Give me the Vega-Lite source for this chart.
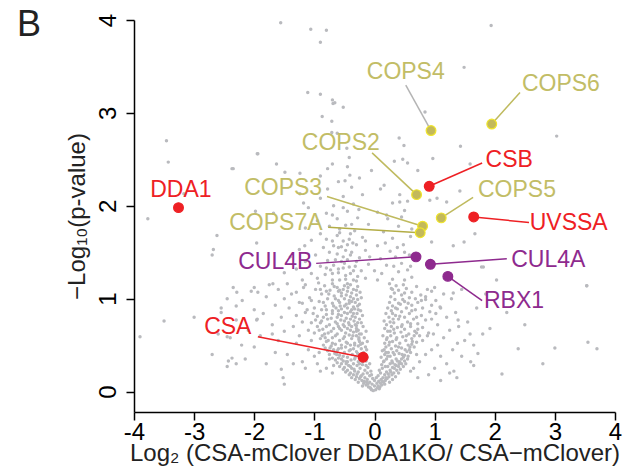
{
"$schema":"https://vega.github.io/schema/vega-lite/v6.json",
"width":481,"height":392,
"autosize":{"type":"none"},
"padding":{"left":134,"top":20,"right":23,"bottom":63},
"background":"white",
"config":{"view":{"stroke":null},"font":"Liberation Sans"},
"title":{"text":"B","anchor":"start","frame":"group","fontSize":36,"fontWeight":"normal","font":"Liberation Sans","color":"#222222","baseline":"alphabetic","offset":0,"dx":-117,"dy":59},
"datasets":{
"bg":[
{"x":-0.02,"y":0.01},{"x":0.02,"y":0.02},{"x":-0.06,"y":0.03},{"x":0.05,"y":0.04},{"x":-0.1,"y":0.05},{"x":0.09,"y":0.05},{"x":0.0,"y":0.06},{"x":-0.14,"y":0.07},{"x":0.12,"y":0.07},{"x":-0.04,"y":0.08},{"x":0.04,"y":0.09},{"x":-0.18,"y":0.09},{"x":0.15,"y":0.1},{"x":-0.08,"y":0.1},{"x":0.07,"y":0.11},{"x":-0.21,"y":0.12},{"x":0.18,"y":0.12},{"x":-0.12,"y":0.13},{"x":0.11,"y":0.13},{"x":-0.25,"y":0.14},{"x":0.21,"y":0.14},{"x":-0.16,"y":0.15},{"x":0.14,"y":0.15},{"x":0.0,"y":0.12},{"x":-0.03,"y":0.14},
{"x":-0.3,"y":0.16},{"x":-0.22,"y":0.17},{"x":-0.35,"y":0.18},{"x":-0.08,"y":0.17},{"x":0.06,"y":0.17},{"x":0.24,"y":0.16},{"x":0.29,"y":0.18},{"x":0.17,"y":0.18},{"x":-0.19,"y":0.19},{"x":-0.4,"y":0.2},{"x":-0.27,"y":0.21},{"x":-0.12,"y":0.2},{"x":0.1,"y":0.2},{"x":0.2,"y":0.21},{"x":0.32,"y":0.2},{"x":-0.33,"y":0.22},{"x":-0.45,"y":0.23},{"x":-0.16,"y":0.23},{"x":-0.06,"y":0.22},{"x":0.08,"y":0.23},{"x":0.26,"y":0.23},{"x":0.37,"y":0.23},{"x":-0.24,"y":0.25},{"x":-0.38,"y":0.25},{"x":-0.5,"y":0.26},{"x":-0.11,"y":0.26},{"x":0.13,"y":0.25},{"x":0.3,"y":0.26},{"x":0.22,"y":0.27},{"x":0.4,"y":0.27},{"x":-0.29,"y":0.28},{"x":-0.43,"y":0.28},{"x":-0.2,"y":0.29},{"x":-0.55,"y":0.3},{"x":0.12,"y":0.29},{"x":0.34,"y":0.29},{"x":0.45,"y":0.3},{"x":-0.08,"y":0.3},{"x":0.26,"y":0.3},{"x":-0.35,"y":0.3},
{"x":-0.62,"y":0.31},{"x":-0.47,"y":0.32},{"x":-0.27,"y":0.32},{"x":-0.14,"y":0.33},{"x":0.15,"y":0.32},{"x":0.29,"y":0.33},{"x":0.42,"y":0.32},{"x":0.5,"y":0.33},{"x":-0.39,"y":0.34},{"x":-0.55,"y":0.35},{"x":-0.21,"y":0.35},{"x":0.2,"y":0.35},{"x":0.36,"y":0.35},{"x":-0.7,"y":0.36},{"x":-0.32,"y":0.37},{"x":-0.45,"y":0.37},{"x":-0.12,"y":0.37},{"x":0.11,"y":0.37},{"x":0.26,"y":0.38},{"x":0.48,"y":0.37},{"x":0.56,"y":0.38},{"x":-0.58,"y":0.39},{"x":-0.25,"y":0.39},{"x":-0.37,"y":0.4},{"x":0.17,"y":0.4},{"x":0.33,"y":0.4},{"x":0.41,"y":0.41},{"x":-0.66,"y":0.41},{"x":-0.5,"y":0.42},{"x":-0.18,"y":0.42},{"x":0.23,"y":0.42},{"x":0.6,"y":0.42},{"x":-0.3,"y":0.43},{"x":-0.42,"y":0.44},{"x":-0.78,"y":0.44},{"x":0.13,"y":0.44},{"x":0.37,"y":0.44},{"x":0.51,"y":0.45},{"x":-0.6,"y":0.46},{"x":-0.22,"y":0.46},{"x":-0.35,"y":0.46},{"x":0.28,"y":0.46},{"x":0.45,"y":0.47},{"x":-0.48,"y":0.48},{"x":-0.15,"y":0.48},{"x":0.19,"y":0.48},{"x":0.66,"y":0.48},{"x":-0.72,"y":0.49},{"x":-0.27,"y":0.49},{"x":0.35,"y":0.49},{"x":0.56,"y":0.5},{"x":-0.4,"y":0.5},{"x":-0.55,"y":0.5},{"x":0.24,"y":0.5},{"x":-0.85,"y":0.5},
{"x":-0.65,"y":0.51},{"x":-0.2,"y":0.52},{"x":-0.33,"y":0.52},{"x":0.17,"y":0.52},{"x":0.42,"y":0.52},{"x":0.7,"y":0.53},{"x":-0.47,"y":0.53},{"x":-0.8,"y":0.54},{"x":-0.12,"y":0.54},{"x":0.3,"y":0.54},{"x":0.52,"y":0.55},{"x":-0.58,"y":0.55},{"x":-0.26,"y":0.56},{"x":-0.38,"y":0.57},{"x":0.2,"y":0.56},{"x":0.62,"y":0.57},{"x":-0.9,"y":0.57},{"x":-0.7,"y":0.58},{"x":-0.17,"y":0.58},{"x":0.37,"y":0.58},{"x":0.47,"y":0.59},{"x":-0.5,"y":0.59},{"x":-0.3,"y":0.6},{"x":0.14,"y":0.6},{"x":0.27,"y":0.6},{"x":0.75,"y":0.6},{"x":-0.42,"y":0.61},{"x":-0.62,"y":0.62},{"x":-0.22,"y":0.62},{"x":0.57,"y":0.62},{"x":-1.0,"y":0.63},{"x":-0.77,"y":0.63},{"x":0.33,"y":0.63},{"x":0.44,"y":0.64},{"x":-0.35,"y":0.64},{"x":-0.14,"y":0.65},{"x":0.22,"y":0.65},{"x":0.67,"y":0.65},{"x":-0.55,"y":0.66},{"x":-0.27,"y":0.66},{"x":-0.86,"y":0.67},{"x":0.5,"y":0.67},{"x":0.17,"y":0.68},{"x":-0.45,"y":0.68},{"x":-0.68,"y":0.68},{"x":0.38,"y":0.69},{"x":0.8,"y":0.69},{"x":-0.19,"y":0.7},{"x":-0.38,"y":0.7},{"x":0.28,"y":0.7},{"x":-0.95,"y":0.7},{"x":0.6,"y":0.7},{"x":-0.6,"y":0.7},{"x":-1.1,"y":0.66},{"x":0.9,"y":0.63},
{"x":-0.3,"y":0.71},{"x":-0.52,"y":0.72},{"x":-0.75,"y":0.72},{"x":0.2,"y":0.72},{"x":0.46,"y":0.72},{"x":0.72,"y":0.73},{"x":-0.22,"y":0.74},{"x":-0.43,"y":0.74},{"x":-1.05,"y":0.74},{"x":0.32,"y":0.74},{"x":0.55,"y":0.75},{"x":-0.65,"y":0.75},{"x":-0.34,"y":0.76},{"x":-0.88,"y":0.76},{"x":0.16,"y":0.76},{"x":0.85,"y":0.77},{"x":-0.56,"y":0.77},{"x":-0.25,"y":0.78},{"x":0.4,"y":0.78},{"x":0.65,"y":0.78},{"x":-0.72,"y":0.79},{"x":-0.47,"y":0.79},{"x":0.24,"y":0.8},{"x":0.5,"y":0.8},{"x":-0.37,"y":0.81},{"x":-0.95,"y":0.81},{"x":-0.2,"y":0.82},{"x":0.35,"y":0.82},{"x":0.78,"y":0.82},{"x":-0.6,"y":0.83},{"x":-0.8,"y":0.83},{"x":-0.29,"y":0.84},{"x":0.58,"y":0.84},{"x":0.19,"y":0.84},{"x":-0.5,"y":0.85},{"x":-1.15,"y":0.85},{"x":0.45,"y":0.86},{"x":0.92,"y":0.86},{"x":-0.4,"y":0.86},{"x":-0.7,"y":0.87},{"x":-0.23,"y":0.87},{"x":0.28,"y":0.87},{"x":0.68,"y":0.88},{"x":-0.88,"y":0.88},{"x":-0.55,"y":0.89},{"x":-0.33,"y":0.89},{"x":0.38,"y":0.89},{"x":0.53,"y":0.9},{"x":-1.0,"y":0.9},{"x":-0.45,"y":0.9},{"x":0.22,"y":0.9},{"x":-0.64,"y":0.9},{"x":0.8,"y":0.9},{"x":-0.27,"y":0.88},{"x":-0.78,"y":0.78},
{"x":-0.35,"y":0.91},{"x":-0.57,"y":0.92},{"x":-0.82,"y":0.92},{"x":0.3,"y":0.92},{"x":0.62,"y":0.93},{"x":0.95,"y":0.93},{"x":-0.25,"y":0.94},{"x":-0.47,"y":0.94},{"x":-1.2,"y":0.95},{"x":0.43,"y":0.94},{"x":-0.7,"y":0.95},{"x":0.25,"y":0.96},{"x":0.72,"y":0.96},{"x":-0.38,"y":0.97},{"x":-0.92,"y":0.97},{"x":0.5,"y":0.97},{"x":-0.6,"y":0.98},{"x":-0.28,"y":0.99},{"x":0.34,"y":0.99},{"x":0.85,"y":0.99},{"x":-0.78,"y":1.0},{"x":-0.5,"y":1.0},{"x":-1.08,"y":1.01},{"x":0.58,"y":1.01},{"x":0.27,"y":1.02},{"x":-0.4,"y":1.02},{"x":-0.67,"y":1.03},{"x":-0.3,"y":1.04},{"x":0.45,"y":1.04},{"x":0.77,"y":1.04},{"x":-0.88,"y":1.05},{"x":-0.55,"y":1.06},{"x":0.33,"y":1.06},{"x":-1.3,"y":1.07},{"x":-0.24,"y":1.07},{"x":0.62,"y":1.07},{"x":-0.45,"y":1.08},{"x":-0.74,"y":1.09},{"x":0.4,"y":1.09},{"x":0.95,"y":1.08},{"x":-0.35,"y":1.1},{"x":-0.98,"y":1.1},{"x":0.28,"y":1.11},{"x":0.53,"y":1.11},{"x":-0.62,"y":1.12},{"x":-0.28,"y":1.13},{"x":0.7,"y":1.13},{"x":-0.5,"y":1.14},{"x":-0.83,"y":1.14},{"x":0.36,"y":1.14},{"x":-1.15,"y":1.15},{"x":-0.4,"y":1.15},{"x":0.48,"y":1.15},{"x":0.25,"y":1.16},{"x":-0.7,"y":1.16},{"x":-0.32,"y":0.96},{"x":-0.44,"y":1.12},{"x":0.88,"y":1.1},{"x":-0.58,"y":1.09},{"x":-0.22,"y":1.01},
{"x":-0.07,"y":0.04},{"x":0.08,"y":0.03},{"x":-0.13,"y":0.1},{"x":0.1,"y":0.09},{"x":-0.2,"y":0.06},{"x":0.17,"y":0.08},{"x":-0.27,"y":0.1},{"x":0.25,"y":0.1},{"x":-0.05,"y":0.18},{"x":0.03,"y":0.15},{"x":-0.32,"y":0.13},{"x":0.3,"y":0.13},{"x":-0.38,"y":0.15},{"x":0.35,"y":0.16},{"x":-0.42,"y":0.18},{"x":0.4,"y":0.2},{"x":-0.48,"y":0.21},{"x":0.43,"y":0.24},{"x":-0.52,"y":0.24},{"x":0.48,"y":0.27},{"x":-0.58,"y":0.27},{"x":0.52,"y":0.3},{"x":-0.14,"y":0.28},{"x":0.18,"y":0.27},{"x":-0.25,"y":0.3},{"x":0.3,"y":0.31},{"x":-0.45,"y":0.32},{"x":0.38,"y":0.33},{"x":-0.65,"y":0.34},{"x":0.55,"y":0.35},{"x":-0.33,"y":0.35},{"x":-0.18,"y":0.38},{"x":0.22,"y":0.38},{"x":-0.52,"y":0.38},{"x":0.46,"y":0.4},{"x":-0.75,"y":0.4},{"x":-0.28,"y":0.41},{"x":0.31,"y":0.42},{"x":-0.62,"y":0.44},{"x":0.58,"y":0.45},{"x":-0.4,"y":0.45},{"x":-0.13,"y":0.45},{"x":0.16,"y":0.45},{"x":-0.82,"y":0.47},{"x":-0.55,"y":0.47},{"x":0.4,"y":0.48},{"x":-0.33,"y":0.5},{"x":0.62,"y":0.51},{"x":-0.7,"y":0.52},{"x":-0.45,"y":0.52},{"x":-0.25,"y":0.54},{"x":0.25,"y":0.53},{"x":0.36,"y":0.56},{"x":-0.52,"y":0.57},{"x":-0.82,"y":0.58},{"x":-0.65,"y":0.6},{"x":-0.36,"y":0.6},{"x":0.53,"y":0.6},{"x":-0.25,"y":0.62},{"x":0.7,"y":0.63},{"x":-0.48,"y":0.63},{"x":-0.72,"y":0.65},{"x":-0.4,"y":0.66},{"x":0.32,"y":0.67},{"x":-0.58,"y":0.68},{"x":-0.3,"y":0.68},{"x":0.45,"y":0.7},{"x":-0.8,"y":0.7},{"x":-0.5,"y":0.7},{"x":-0.42,"y":0.72},{"x":-0.62,"y":0.73},{"x":0.6,"y":0.73},{"x":-0.28,"y":0.74},{"x":-0.9,"y":0.74},{"x":0.26,"y":0.75},{"x":-0.5,"y":0.76},{"x":-0.4,"y":0.78},{"x":0.7,"y":0.8},{"x":-0.62,"y":0.8},{"x":-0.32,"y":0.8},{"x":-0.85,"y":0.8},{"x":0.42,"y":0.81},{"x":-0.55,"y":0.82},{"x":-0.45,"y":0.84},{"x":-0.7,"y":0.84},{"x":0.3,"y":0.84},{"x":-0.38,"y":0.88},{"x":-0.6,"y":0.87},{"x":0.62,"y":0.87},{"x":-0.8,"y":0.88},{"x":-0.5,"y":0.92},{"x":-0.28,"y":0.92},{"x":-0.68,"y":0.92},{"x":0.4,"y":0.95},{"x":-0.42,"y":0.95},{"x":-0.58,"y":0.96},{"x":-0.85,"y":0.96},{"x":-0.35,"y":1.0},{"x":-0.65,"y":1.0},{"x":0.68,"y":1.0},{"x":-0.47,"y":1.04},{"x":-0.76,"y":1.05},{"x":-0.38,"y":1.06},{"x":0.5,"y":1.06},{"x":-0.6,"y":1.08},{"x":-0.3,"y":1.09},{"x":-0.9,"y":1.1},{"x":-0.52,"y":1.1},{"x":0.3,"y":1.1},{"x":-0.45,"y":1.16},{"x":-0.35,"y":1.2},{"x":-0.58,"y":1.2},{"x":-0.28,"y":1.24},{"x":-0.48,"y":1.25},{"x":-0.7,"y":1.27},{"x":-0.35,"y":1.3},{"x":-0.6,"y":1.32},{"x":-0.42,"y":1.34},{"x":-0.8,"y":1.33},{"x":-0.5,"y":1.38},{"x":-0.3,"y":1.4},{"x":-0.65,"y":1.42},{"x":-0.52,"y":1.45},{"x":-0.4,"y":1.47},{"x":-0.75,"y":1.5},{"x":-0.48,"y":1.52},{"x":-0.6,"y":1.55},{"x":-0.36,"y":1.6},{"x":-0.52,"y":1.62},{"x":-0.8,"y":1.64},{"x":-0.62,"y":1.68},{"x":-0.4,"y":1.7},
{"x":-0.05,"y":0.02},{"x":0.06,"y":0.06},{"x":-0.11,"y":0.08},{"x":0.13,"y":0.11},{"x":-0.17,"y":0.11},{"x":0.19,"y":0.15},{"x":-0.23,"y":0.16},{"x":0.23,"y":0.19},{"x":-0.29,"y":0.19},{"x":0.27,"y":0.21},{"x":-0.34,"y":0.24},{"x":0.33,"y":0.25},{"x":-0.4,"y":0.27},{"x":0.36,"y":0.28},{"x":-0.47,"y":0.3},{"x":0.41,"y":0.3},{"x":-0.52,"y":0.33},{"x":0.45,"y":0.35},{"x":-0.6,"y":0.36},{"x":0.5,"y":0.39},{"x":-0.63,"y":0.4},{"x":0.54,"y":0.43},{"x":-0.68,"y":0.45},{"x":0.59,"y":0.48},{"x":-0.74,"y":0.47},{"x":0.63,"y":0.54},{"x":-0.77,"y":0.55},{"x":0.66,"y":0.6},{"x":-0.83,"y":0.62},{"x":0.72,"y":0.67},{"x":-0.87,"y":0.6},{"x":-0.92,"y":0.66},{"x":-0.98,"y":0.77},{"x":-1.02,"y":0.84},{"x":-0.2,"y":0.32},{"x":-0.16,"y":0.4},{"x":0.16,"y":0.33},{"x":0.19,"y":0.42},{"x":-0.23,"y":0.51},{"x":0.21,"y":0.58},{"x":-0.26,"y":0.58},{"x":-0.32,"y":0.72},{"x":-0.35,"y":0.84},{"x":-0.42,"y":0.98},{"x":-0.3,"y":0.65},{"x":0.26,"y":0.65},{"x":0.31,"y":0.78},{"x":0.35,"y":0.9},{"x":0.47,"y":0.99},{"x":0.56,"y":0.95},{"x":-0.55,"y":1.03},{"x":-0.67,"y":1.13},{"x":-0.8,"y":1.08},{"x":-0.93,"y":1.17},{"x":-0.73,"y":1.31},{"x":-0.55,"y":1.4},{"x":-0.45,"y":1.58},{"x":-0.68,"y":1.57},{"x":-0.58,"y":1.75},{"x":-0.38,"y":1.8},{"x":-0.7,"y":1.9},{"x":-0.52,"y":1.98},{"x":-0.26,"y":1.96},{"x":-0.15,"y":1.62},{"x":-0.08,"y":1.45},{"x":0.0,"y":1.3},{"x":0.18,"y":1.6},{"x":0.32,"y":1.35},{"x":0.5,"y":1.5},{"x":0.6,"y":1.35},
{"x":-1.2,"y":0.32},{"x":-1.45,"y":0.4},{"x":-1.1,"y":0.45},{"x":-1.3,"y":0.52},{"x":-1.6,"y":0.55},{"x":-1.9,"y":0.6},{"x":-1.25,"y":0.6},{"x":-1.5,"y":0.65},{"x":-2.1,"y":0.66},{"x":-1.35,"y":0.7},{"x":-1.7,"y":0.72},{"x":-1.2,"y":0.75},{"x":-2.3,"y":0.77},{"x":-1.55,"y":0.8},{"x":-1.3,"y":0.82},{"x":-1.85,"y":0.84},{"x":-2.0,"y":0.88},{"x":-1.42,"y":0.9},{"x":-1.65,"y":0.93},{"x":-1.25,"y":0.96},{"x":-2.2,"y":0.98},{"x":-1.5,"y":1.0},{"x":-1.8,"y":1.02},{"x":-1.38,"y":1.05},{"x":-2.05,"y":1.08},{"x":-1.6,"y":1.1},{"x":-1.18,"y":1.12},{"x":-2.35,"y":1.12},{"x":-1.75,"y":1.15},{"x":-1.45,"y":1.16},{"x":-1.0,"y":0.38},{"x":-0.95,"y":0.3},{"x":-1.15,"y":0.25},{"x":-0.9,"y":0.22},{"x":-1.35,"y":0.3},{"x":-1.65,"y":0.42},{"x":-2.0,"y":0.48},{"x":-2.4,"y":0.58},{"x":-2.15,"y":0.35},{"x":-1.8,"y":0.3},{"x":-2.55,"y":0.85},{"x":-2.45,"y":1.0},{"x":-1.05,"y":0.55},{"x":-1.12,"y":0.88},{"x":-1.55,"y":0.24},{"x":-2.6,"y":0.62},{"x":-2.3,"y":0.92},{"x":-1.95,"y":0.78},{"x":-1.7,"y":0.62},{"x":-2.0,"y":1.12},{"x":-1.05,"y":0.98},{"x":-0.92,"y":0.42},{"x":-0.8,"y":0.25},{"x":-0.75,"y":0.35},{"x":-0.7,"y":0.2},{"x":-0.68,"y":0.28},{"x":-2.45,"y":0.27},{"x":-2.3,"y":0.3},{"x":-1.5,"y":0.08},{"x":-3.0,"y":0.8},{"x":-2.7,"y":0.4},{"x":-3.5,"y":0.76},
{"x":-2.55,"y":0.9},{"x":-2.43,"y":0.33},{"x":-2.37,"y":0.36},{"x":-3.9,"y":0.59},{"x":-2.45,"y":0.59},{"x":-1.52,"y":0.15},{"x":-1.96,"y":0.77},{"x":-1.94,"y":1.07},{"x":-2.29,"y":1.07},{"x":-2.21,"y":0.5},
{"x":0.65,"y":0.25},{"x":0.75,"y":0.32},{"x":0.85,"y":0.4},{"x":0.95,"y":0.45},{"x":1.05,"y":0.5},{"x":0.8,"y":0.55},{"x":1.15,"y":0.58},{"x":0.98,"y":0.62},{"x":1.25,"y":0.66},{"x":1.05,"y":0.72},{"x":0.95,"y":0.78},{"x":1.2,"y":0.8},{"x":1.35,"y":0.85},{"x":1.1,"y":0.9},{"x":1.02,"y":0.98},{"x":1.28,"y":1.0},{"x":1.15,"y":1.05},{"x":1.4,"y":0.7},{"x":1.5,"y":0.55},{"x":1.3,"y":0.45},{"x":1.45,"y":0.38},{"x":1.2,"y":0.3},{"x":1.0,"y":0.25},{"x":0.9,"y":0.18},{"x":0.72,"y":0.15},{"x":1.1,"y":0.12},{"x":1.32,"y":0.22},{"x":1.6,"y":0.32},{"x":1.55,"y":0.75},{"x":1.7,"y":0.9},{"x":1.45,"y":1.1},{"x":0.7,"y":0.4},{"x":0.88,"y":0.6},{"x":1.1,"y":0.38},{"x":0.6,"y":0.22},{"x":1.38,"y":0.52},{"x":1.02,"y":0.84},{"x":0.85,"y":1.02},{"x":0.78,"y":0.98},{"x":1.65,"y":0.5},{"x":1.8,"y":0.62},{"x":2.2,"y":0.85},{"x":1.85,"y":1.05},{"x":2.5,"y":0.72},{"x":1.0,"y":1.12},
{"x":2.39,"y":0.46},{"x":3.0,"y":0.47},{"x":3.55,"y":0.53},{"x":3.7,"y":0.46},{"x":1.92,"y":0.68},{"x":1.59,"y":0.62},{"x":1.72,"y":0.41},{"x":2.12,"y":0.19},{"x":1.37,"y":0.15},{"x":1.39,"y":0.77},{"x":1.31,"y":1.06},{"x":1.09,"y":0.91},{"x":2.03,"y":1.2},{"x":1.78,"y":1.34},{"x":3.53,"y":1.14},{"x":1.65,"y":0.28},{"x":1.25,"y":0.2},{"x":2.8,"y":0.3},
{"x":-1.2,"y":1.2},{"x":-0.95,"y":1.22},{"x":-0.7,"y":1.2},{"x":-0.48,"y":1.21},{"x":-0.3,"y":1.19},{"x":-0.15,"y":1.22},{"x":0.05,"y":1.2},{"x":0.3,"y":1.21},{"x":0.5,"y":1.2},{"x":0.62,"y":1.23},
{"x":-1.05,"y":1.27},{"x":-0.82,"y":1.26},{"x":-0.6,"y":1.28},{"x":-0.4,"y":1.27},{"x":-0.22,"y":1.3},{"x":0.12,"y":1.27},{"x":0.4,"y":1.29},{"x":0.55,"y":1.31},{"x":-1.3,"y":1.32},{"x":-0.52,"y":1.33},
{"x":-0.9,"y":1.35},{"x":-0.68,"y":1.36},{"x":-0.32,"y":1.35},{"x":-0.1,"y":1.37},{"x":0.2,"y":1.36},{"x":0.45,"y":1.38},{"x":-1.15,"y":1.4},{"x":-0.78,"y":1.41},{"x":-0.45,"y":1.42},{"x":-0.25,"y":1.44},
{"x":0.1,"y":1.43},{"x":0.35,"y":1.45},{"x":0.58,"y":1.47},{"x":-0.98,"y":1.47},{"x":-0.62,"y":1.48},{"x":-0.38,"y":1.5},{"x":-0.15,"y":1.52},{"x":0.26,"y":1.51},{"x":-1.25,"y":1.53},{"x":-0.85,"y":1.55},
{"x":-0.55,"y":1.56},{"x":-0.3,"y":1.58},{"x":0.05,"y":1.57},{"x":0.48,"y":1.58},{"x":-0.7,"y":1.62},{"x":-1.05,"y":1.63},{"x":-0.42,"y":1.64},{"x":-0.2,"y":1.66},{"x":0.3,"y":1.65},{"x":0.6,"y":1.67},
{"x":-0.9,"y":1.7},{"x":-0.58,"y":1.71},{"x":-0.33,"y":1.73},{"x":0.15,"y":1.72},{"x":-1.15,"y":1.76},{"x":-0.75,"y":1.78},{"x":-0.48,"y":1.79},{"x":-0.1,"y":1.8},{"x":0.4,"y":1.78},{"x":-0.95,"y":1.84},
{"x":-0.62,"y":1.86},{"x":-0.28,"y":1.87},{"x":0.22,"y":1.86},{"x":-0.8,"y":1.92},{"x":-0.45,"y":1.94},{"x":0.05,"y":1.93},{"x":0.5,"y":1.95},{"x":-1.1,"y":1.98},{"x":-0.68,"y":2.0},{"x":-0.35,"y":2.02},
{"x":0.3,"y":2.03},{"x":-0.9,"y":2.08},{"x":-0.52,"y":2.1},{"x":-0.2,"y":2.12},{"x":-0.78,"y":2.18},{"x":-0.38,"y":2.2},{"x":0.1,"y":2.18},{"x":-0.6,"y":2.26},{"x":-0.25,"y":2.3},{"x":-0.9,"y":2.32},
{"x":0.45,"y":1.88},{"x":0.62,"y":1.75},{"x":0.55,"y":2.05},{"x":0.42,"y":2.12},{"x":-0.05,"y":2.38},{"x":-0.7,"y":2.45},{"x":-0.42,"y":2.52},{"x":0.38,"y":1.55},{"x":-1.4,"y":1.45},{"x":-1.5,"y":1.28},
{"x":-1.56,"y":3.97},{"x":-1.06,"y":3.9},{"x":-0.8,"y":3.89},{"x":-0.9,"y":3.76},{"x":-1.11,"y":3.22},{"x":-0.9,"y":3.2},{"x":-0.7,"y":3.14},{"x":-0.69,"y":3.1},{"x":-0.52,"y":3.06},{"x":-0.87,"y":2.96},{"x":-0.71,"y":2.91},{"x":-0.71,"y":2.79},{"x":-0.62,"y":2.78},{"x":-0.46,"y":2.62},{"x":-1.94,"y":2.56},{"x":-1.63,"y":2.45},{"x":-2.37,"y":2.4},{"x":-0.78,"y":2.4},{"x":-0.45,"y":2.42},{"x":0.41,"y":2.73},{"x":0.49,"y":2.65},{"x":0.33,"y":2.48},{"x":0.47,"y":2.5},{"x":0.55,"y":2.46},{"x":1.94,"y":3.94},{"x":1.49,"y":3.49},{"x":0.84,"y":3.01},{"x":3.03,"y":2.75},{"x":1.43,"y":2.64},{"x":0.97,"y":2.51},{"x":1.59,"y":2.45},{"x":0.72,"y":2.38},{"x":1.42,"y":2.16},{"x":0.16,"y":2.22},{"x":-0.49,"y":2.27},{"x":-0.41,"y":2.33},{"x":0.92,"y":2.06},{"x":1.04,"y":2.08},{"x":0.42,"y":2.04},{"x":0.2,"y":1.9},{"x":1.67,"y":1.7},{"x":1.2,"y":2.04},{"x":0.95,"y":1.61},{"x":1.31,"y":1.57},{"x":1.49,"y":1.61},{"x":1.81,"y":1.34},{"x":3.53,"y":1.14},{"x":-3.46,"y":2.7},{"x":-3.43,"y":2.47},{"x":-3.17,"y":2.13},{"x":-3.77,"y":1.86},{"x":-1.95,"y":2.56},{"x":-1.49,"y":2.36},{"x":-1.98,"y":1.94},{"x":-1.68,"y":1.92},{"x":-1.18,"y":2.03},{"x":-2.62,"y":1.68},{"x":-2.68,"y":1.53},{"x":-2.7,"y":1.47},{"x":-1.96,"y":1.6},{"x":-1.16,"y":1.57},{"x":-1.69,"y":1.16},{"x":-2.35,"y":2.4},{"x":-1.24,"y":2.35},{"x":-1.24,"y":2.13},{"x":-0.66,"y":3.11}
],
"hl":[
{"gene":"COPS4","grp":"CSN","x":0.94,"y":2.81,"lx":0.52,"ly":3.44,"ex":0.52,"ey":3.3},
{"gene":"COPS6","grp":"CSN","x":1.95,"y":2.88,"lx":3.1,"ly":3.31,"ex":2.42,"ey":3.22},
{"gene":"COPS2","grp":"CSN","x":0.7,"y":2.12,"lx":-0.56,"ly":2.68,"ex":-0.04,"ey":2.57},
{"gene":"CSB","grp":"TCR","x":0.91,"y":2.21,"lx":2.24,"ly":2.49,"ex":1.79,"ey":2.46},
{"gene":"COPS3","grp":"CSN","x":0.8,"y":1.78,"lx":-1.52,"ly":2.19,"ex":-0.79,"ey":2.1},
{"gene":"COPS5","grp":"CSN","x":1.11,"y":1.87,"lx":2.37,"ly":2.17,"ex":1.64,"ey":2.09},
{"gene":"UVSSA","grp":"TCR","x":1.65,"y":1.88,"lx":3.23,"ly":1.82,"ex":2.57,"ey":1.82},
{"gene":"COPS7A","grp":"CSN","x":0.76,"y":1.71,"lx":-1.64,"ly":1.82,"ex":-0.77,"ey":1.77},
{"gene":"CUL4B","grp":"CRL4","x":0.69,"y":1.45,"lx":-1.65,"ly":1.39,"ex":-0.97,"ey":1.38},
{"gene":"CUL4A","grp":"CRL4","x":0.93,"y":1.37,"lx":2.89,"ly":1.42,"ex":2.2,"ey":1.43},
{"gene":"RBX1","grp":"CRL4","x":1.22,"y":1.24,"lx":2.32,"ly":0.97,"ex":1.79,"ey":0.98},
{"gene":"DDA1","grp":"TCR","x":-3.26,"y":1.98,"lx":-3.22,"ly":2.17,"ex":null,"ey":null},
{"gene":"CSA","grp":"TCR","x":-0.19,"y":0.37,"lx":-2.44,"ly":0.69,"ex":-1.94,"ey":0.59}
]
},
"layer":[
{"data":{"name":"bg"},"mark":{"type":"circle","size":12,"color":"#b9babe","opacity":1},
 "encoding":{
  "x":{"field":"x","type":"quantitative","scale":{"domain":[-4,4],"nice":false,"zero":false},
   "axis":{"values":[-4,-3,-2,-1,0,1,2,3,4],"grid":false,"domainColor":"#000000","domainWidth":1.5,"tickColor":"#000000","tickWidth":1.5,"tickSize":8,"labelFontSize":24,"labelColor":"#000000","labelPadding":0,"labelExpr":"'' + datum.value","labelFlush":false,"title":"Log₂ (CSA-mClover DDA1KO/ CSA−mClover)","titleFontSize":24,"titleFontWeight":"normal","titleColor":"#222222","titlePadding":-3}},
  "y":{"field":"y","type":"quantitative","scale":{"domain":[-0.22,4],"nice":false,"zero":false},
   "axis":{"values":[0,1,2,3,4],"grid":false,"domainColor":"#000000","domainWidth":1.5,"tickColor":"#000000","tickWidth":1.5,"tickSize":8,"labelFontSize":24,"labelColor":"#000000","labelAngle":-90,"labelPadding":6,"labelExpr":"'' + datum.value","labelFlush":false,"title":"−Log₁₀(p-value)","titleFontSize":24,"titleFontWeight":"normal","titleColor":"#222222","titlePadding":7}}
 }},
{"mark":{"type":"rule","color":"#000000","strokeWidth":1.3,"strokeDash":[30,30]},"encoding":{"x":{"datum":-0.6}}},
{"mark":{"type":"rule","color":"#000000","strokeWidth":1.3,"strokeDash":[30,30]},"encoding":{"x":{"datum":0.55}}},
{"mark":{"type":"rule","color":"#000000","strokeWidth":1.3,"strokeDash":[30,30]},"encoding":{"y":{"datum":1.16}}},
{"data":{"name":"hl"},"transform":[{"filter":"datum.ex != null"}],
 "mark":{"type":"rule","strokeWidth":1.5},
 "encoding":{"x":{"field":"ex","type":"quantitative"},"y":{"field":"ey","type":"quantitative"},"x2":{"field":"x"},"y2":{"field":"y"},
  "color":{"field":"gene","type":"nominal","scale":{"domain":["COPS4","COPS6","COPS2","COPS3","COPS5","COPS7A","CSB","UVSSA","CSA","CUL4B","CUL4A","RBX1"],"range":["#b4b4b4","#bfba5e","#bfba5e","#bfba5e","#bfba5e","#b3ad45","#ee2024","#ee2024","#ee2024","#8e2a8e","#8e2a8e","#8e2a8e"]},"legend":null}}},
{"data":{"name":"hl"},
 "mark":{"type":"circle","size":95,"opacity":1,"strokeWidth":1.2},
 "encoding":{"x":{"field":"x","type":"quantitative"},"y":{"field":"y","type":"quantitative"},
  "fill":{"field":"grp","type":"nominal","scale":{"domain":["CSN","TCR","CRL4"],"range":["#c3b95a","#ee2024","#8e2a8e"]},"legend":null},
  "stroke":{"field":"grp","type":"nominal","scale":{"domain":["CSN","TCR","CRL4"],"range":["#f0e52a","#ee2024","#8e2a8e"]},"legend":null}}},
{"data":{"name":"hl"},
 "mark":{"type":"text","fontSize":23,"align":"center","baseline":"middle","font":"Liberation Sans"},
 "encoding":{"x":{"field":"lx","type":"quantitative"},"y":{"field":"ly","type":"quantitative"},"text":{"field":"gene"},
  "color":{"field":"grp","type":"nominal","scale":{"domain":["CSN","TCR","CRL4"],"range":["#c2bd66","#ee2024","#8e2a8e"]},"legend":null}}}
],
"resolve":{"scale":{"color":"independent"}}
}
